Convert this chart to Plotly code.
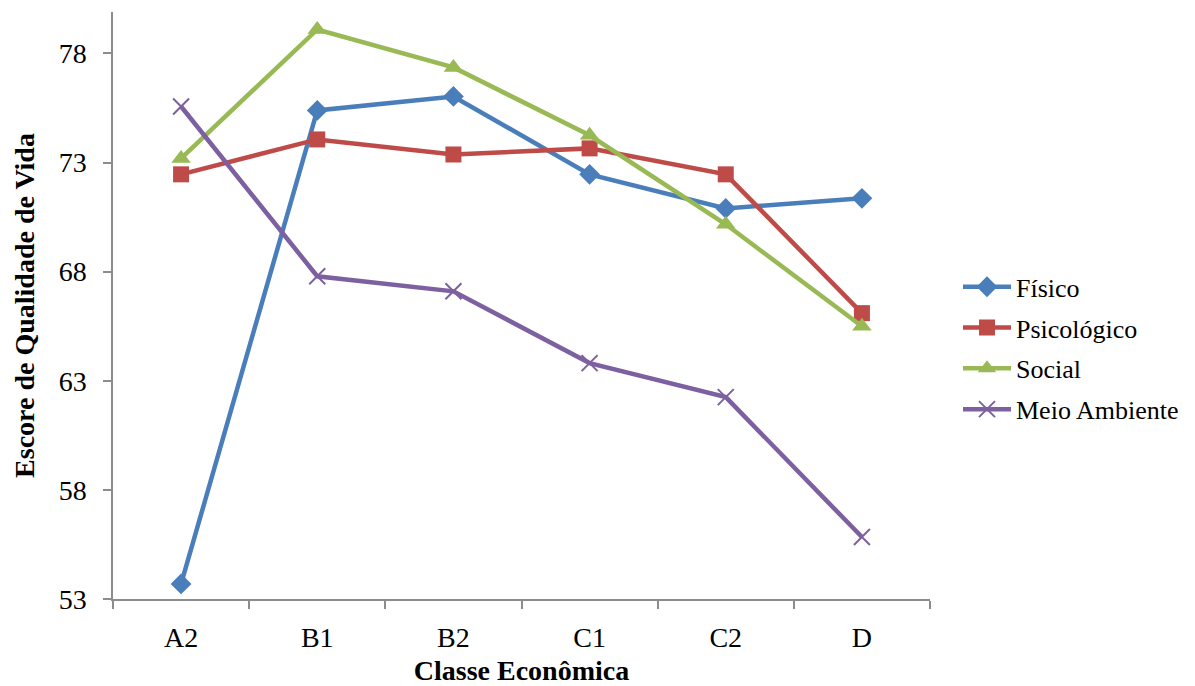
import plotly.graph_objects as go

# Classes económicas e escores médios por domínio
classes = ["A2", "B1", "B2", "C1", "C2", "D"]
fisico = [53.69, 75.39, 76.03, 72.46, 70.90, 71.36]
psicologico = [72.46, 74.06, 73.37, 73.65, 72.46, 66.10]
social = [73.19, 79.10, 77.36, 74.25, 70.17, 65.50]
meio_ambiente = [75.57, 67.79, 67.10, 63.81, 62.25, 55.84]
y_ticks = [53, 58, 63, 68, 73, 78]

FONT = "Liberation Serif, Times New Roman, serif"
FS = 28
AXIS_GREY = "#8c8c8c"

series = [
    ("Físico", fisico, "#4a7ebb", dict(symbol="diamond", size=16)),
    ("Psicológico", psicologico, "#be4b48", dict(symbol="square", size=16)),
    ("Social", social, "#98b954", dict(symbol="triangle-up", size=17)),
    ("Meio Ambiente", meio_ambiente, "#7d60a0",
     dict(symbol="x-thin", size=16, line=dict(width=2, color="#7d60a0"))),
]

fig = go.Figure()
for name, vals, color, marker in series:
    fig.add_trace(go.Scatter(
        x=classes, y=vals, name=name, legendgroup=name, mode="lines+markers",
        line=dict(color=color, width=4.5),
        marker=dict(color=color, **marker),
    ))

fig.update_layout(
    width=1195, height=686,
    margin=dict(l=113, r=264, t=12, b=87),
    paper_bgcolor="white", plot_bgcolor="white",
    font=dict(family=FONT, size=FS, color="black"),
    legend=dict(
        x=1.033, y=0.427, xanchor="left", yanchor="middle",
        font=dict(family=FONT, size=26),
        itemwidth=48, tracegroupgap=4,
        bgcolor="rgba(0,0,0,0)",
    ),
)

fig.update_xaxes(
    type="category", range=[-0.5, 5.5], automargin=False,
    showline=True, linecolor=AXIS_GREY, linewidth=1.5,
    ticks="outside", tickson="boundaries", ticklen=8, tickcolor=AXIS_GREY, tickwidth=1.5,
    ticklabelstandoff=13,
    showgrid=False, zeroline=False,
    tickfont=dict(family=FONT, size=FS),
    title=dict(text="<b>Classe Econômica</b>", font=dict(family=FONT, size=FS), standoff=10),
)
fig.update_yaxes(
    range=[53, 79.9], tickvals=y_ticks, ticktext=[str(v) for v in y_ticks],
    automargin=False,
    showline=True, linecolor=AXIS_GREY, linewidth=1.5,
    ticks="outside", ticklen=8, tickcolor=AXIS_GREY, tickwidth=1.5,
    ticklabelstandoff=11,
    showgrid=False, zeroline=False,
    tickfont=dict(family=FONT, size=FS),
    title=dict(text="<b>Escore de Qualidade de Vida</b>", font=dict(family=FONT, size=FS), standoff=16),
)

fig.write_html("out.html")
